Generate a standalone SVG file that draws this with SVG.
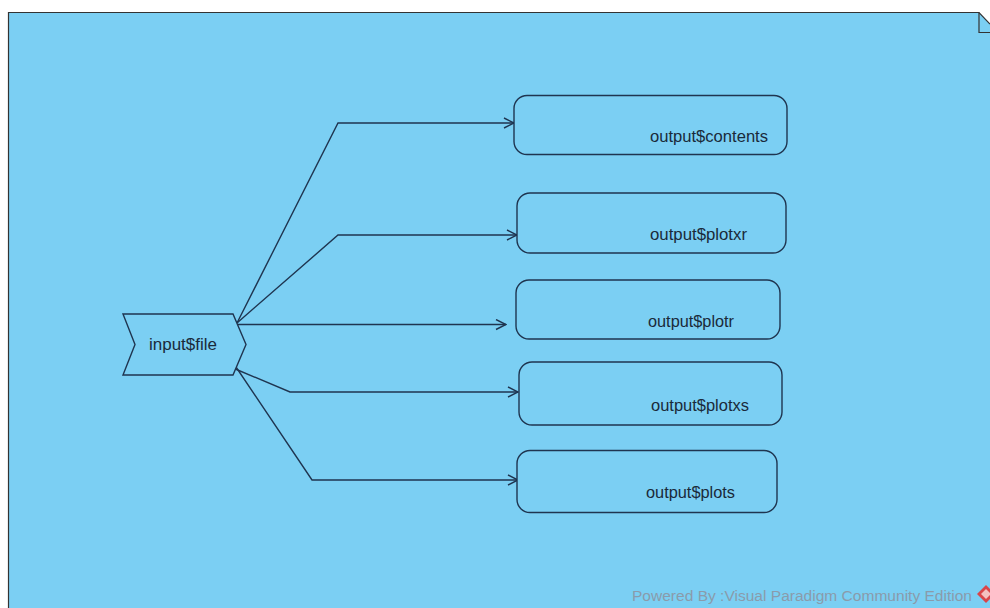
<svg xmlns="http://www.w3.org/2000/svg" width="990" height="608" viewBox="0 0 990 608">
<defs>
<style>
.node{fill:#7BCFF3;stroke:#1f3550;stroke-width:1.4}
.lbl{font-family:"Liberation Sans",Arial,sans-serif;font-size:16px;fill:#1a2a3a}
.conn{fill:none;stroke:#1f3550;stroke-width:1.4}
.foot{font-family:"Liberation Sans",Arial,sans-serif;font-size:14px;fill:#8a9bab}
</style>
<marker id="arr" viewBox="0 0 12 12" refX="11" refY="6" markerWidth="12" markerHeight="12" markerUnits="userSpaceOnUse" orient="auto">
<path d="M1,1 L11,6 L1,11" fill="none" stroke="#1f3550" stroke-width="1.4"/>
</marker>
</defs>
<rect x="0" y="0" width="990" height="608" fill="#ffffff"/>
<g id="frame">
<path d="M8.5,12.5 L979,12.5 L990,24 L990,608 L8.5,608 Z" fill="#7BCFF3"/>
<path d="M8.5,608 L8.5,12.5 L979,12.5 L990,24" fill="none" stroke="#333" stroke-width="1.2"/>
<path d="M979,12.5 L979,32.5 L990,32.5" fill="none" stroke="#333" stroke-width="1.2"/>
</g>
<g id="connectors">
<polyline class="conn" points="237,323 338,123 514,123" marker-end="url(#arr)"/>
<polyline class="conn" points="237,323 338,235 517,235" marker-end="url(#arr)"/>
<polyline class="conn" points="238,324.5 506,324.5" marker-end="url(#arr)"/>
<polyline class="conn" points="233,368 290,392 518,392" marker-end="url(#arr)"/>
<polyline class="conn" points="234,364 312,480 518,480" marker-end="url(#arr)"/>
</g>
<g id="input-file">
<polygon class="node" points="123,314 233,314 246,344.5 233,375 123,375 135,344.5"/>
<text class="lbl" x="149" y="350" textLength="68" lengthAdjust="spacingAndGlyphs">input$file</text>
</g>
<g id="output-contents">
<rect class="node" x="514" y="95.5" width="273" height="59" rx="13"/>
<text class="lbl" x="650" y="142" textLength="118" lengthAdjust="spacingAndGlyphs">output$contents</text>
</g>
<g id="output-plotxr">
<rect class="node" x="517" y="193" width="269" height="60" rx="13"/>
<text class="lbl" x="650" y="240" textLength="97" lengthAdjust="spacingAndGlyphs">output$plotxr</text>
</g>
<g id="output-plotr">
<rect class="node" x="516" y="280" width="264" height="59" rx="13"/>
<text class="lbl" x="648" y="327" textLength="86" lengthAdjust="spacingAndGlyphs">output$plotr</text>
</g>
<g id="output-plotxs">
<rect class="node" x="519" y="362" width="263" height="63" rx="13"/>
<text class="lbl" x="651" y="411" textLength="98" lengthAdjust="spacingAndGlyphs">output$plotxs</text>
</g>
<g id="output-plots">
<rect class="node" x="517" y="450.5" width="260" height="62" rx="13"/>
<text class="lbl" x="646" y="498" textLength="89" lengthAdjust="spacingAndGlyphs">output$plots</text>
</g>
<g id="footer">
<text class="foot" x="632" y="601" textLength="340" lengthAdjust="spacingAndGlyphs">Powered By :Visual Paradigm Community Edition</text>
<polygon points="986,585 995,594 986,603 977,594" fill="#d9454a"/>
<polygon points="986,589 991,594 986,599 981,594" fill="#f4c0c0"/>
</g>
</svg>
